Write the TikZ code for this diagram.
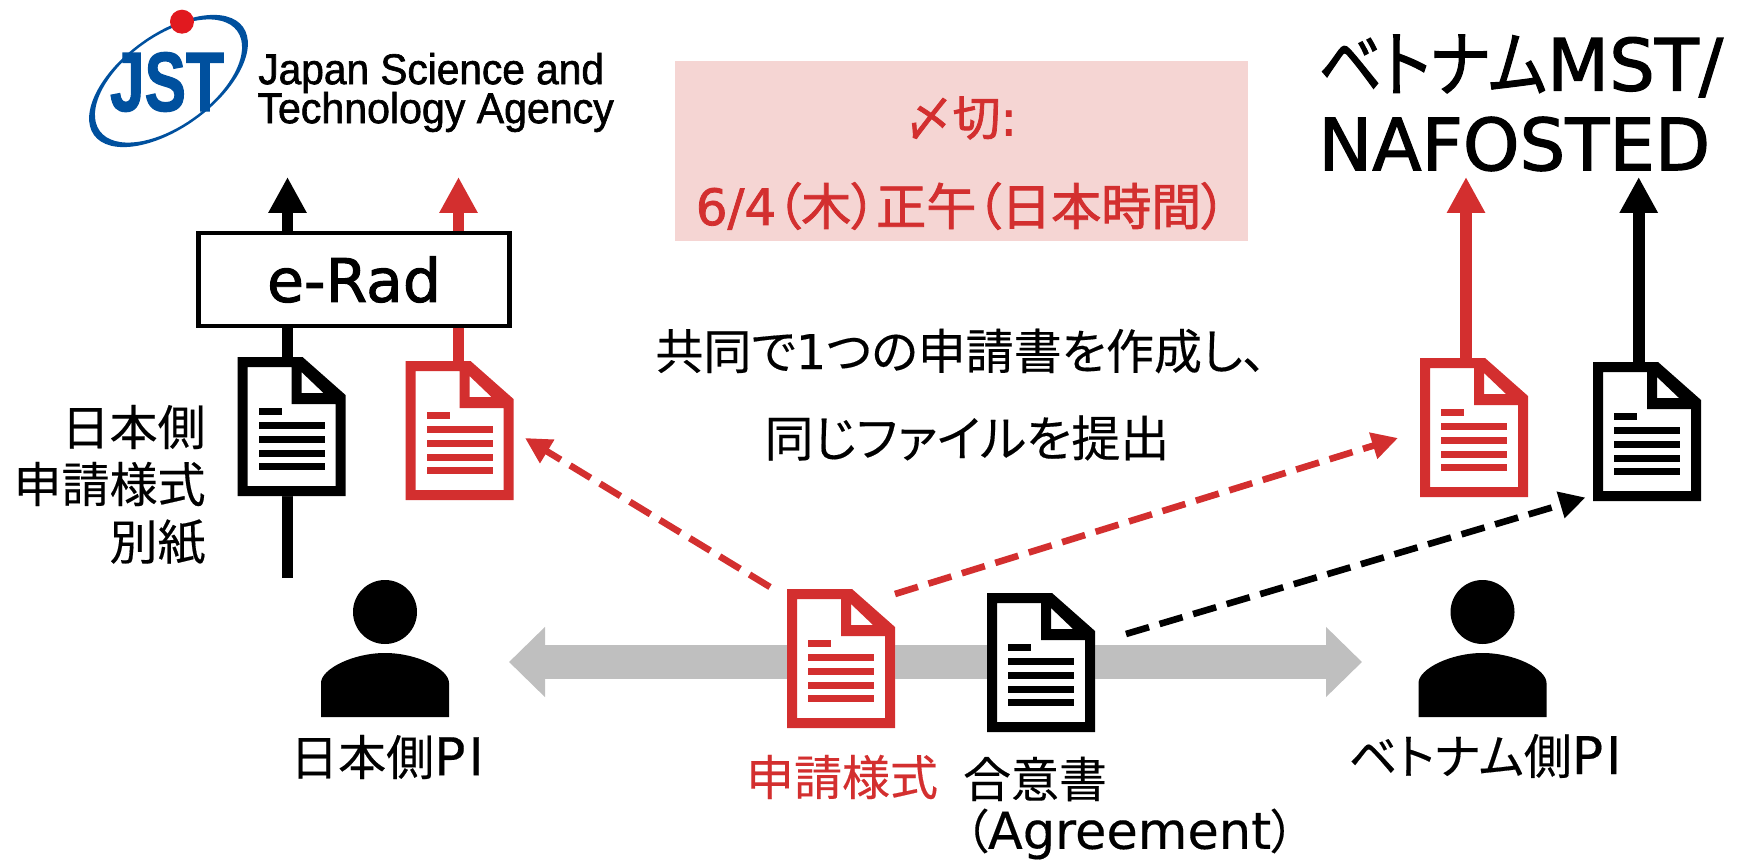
\documentclass[tikz,border=0pt]{standalone}
\usepackage{fontspec}
\setmainfont{Noto Sans CJK JP}[RawFeature={+palt;embolden=0.3}]
\newfontfamily\jb{Noto Sans CJK JP}[RawFeature={+palt;embolden=1.6}]
\newfontfamily\la{DejaVu Sans}[RawFeature={embolden=0.3}]
\newfontfamily\lb{DejaVu Sans}[RawFeature={embolden=1.6}]
\newfontfamily\logofont{Liberation Sans}[RawFeature={embolden=1.5}]
\usetikzlibrary{arrows.meta}
\definecolor{docred}{HTML}{D32F2F}
\definecolor{pinkbg}{HTML}{F5D5D3}
\definecolor{arrowgray}{HTML}{BFBFBF}
\definecolor{jstblue}{HTML}{00509E}
\definecolor{jstred}{HTML}{E1191F}
\newcommand{\fs}[1]{\fontsize{#1pt}{#1pt}\selectfont}
\newcommand{\PIlabel}{{\la\fs{26}P\kern1.5pt I}}
\tikzset{
  x=0.5pt,y=-0.5pt,
  lbl/.style={inner sep=0pt,font=\fs{24}},
  thickarrow/.style={line width=5.8pt,-{Triangle[length=18pt,width=18pt]}},
  dasharrow/.style={line width=3.3pt,dash pattern=on 12pt off 5.5pt,-{Triangle[length=13pt,width=13pt]}},
  grayarrow/.style={line width=17pt,arrowgray,{Triangle[length=18pt,width=34pt]}-{Triangle[length=18pt,width=34pt]}},
  docbox/.style={inner sep=0pt,outer sep=0pt,minimum width=54pt,minimum height=69.5pt,anchor=north west},
}
\newcommand{\docicon}[4]{%
  \node[docbox] (#1) at (#2,#3) {};
  \begin{scope}[shift={(#2,#3)},x=0.5pt,y=-0.5pt]
    \fill[white] (0,0)--(65,0)--(108,38)--(108,139)--(0,139)--cycle;
    \fill[#4,even odd rule] (0,0)--(65,0)--(108,38)--(108,139)--(0,139)--cycle
       (10,10)--(54,10)--(54,47)--(98,47)--(98,129)--(10,129)--cycle
       (64,15)--(86,36)--(64,36)--cycle;
    \fill[#4] (21,51) rectangle (44,58);
    \foreach \yy in {65,79,93,106}{\fill[#4] (21,\yy) rectangle (87,\yy+7);}
  \end{scope}}
\newcommand{\personicon}[3]{%
  \begin{scope}[shift={(#2,#3)},x=0.5pt,y=-0.5pt]
    \fill[black] (0,0) circle[radius=32];
    \fill[black] (-64,105)--(-64,71) .. controls (-64,57) and (-32,41) .. (0,41)
       .. controls (32,41) and (64,57) .. (64,71)--(64,105)--cycle;
  \end{scope}}
\begin{document}
\begin{tikzpicture}
\useasboundingbox (0,0) rectangle (1738,861);
% free ends
\coordinate (tipJB) at (287.5,177);
\coordinate (tipJR) at (458.5,177);
\coordinate (tailJB) at (287.5,578);
\coordinate (tipVR) at (1466,177);
\coordinate (tipVB) at (1638.7,177);
\coordinate (gL) at (509,662);
\coordinate (gR) at (1362,662);
\coordinate (dA0) at (770,587);
\coordinate (dA1) at (525,438);
\coordinate (dB0) at (895,594);
\coordinate (dB1) at (1398,438);
\coordinate (dC0) at (1126,634);
\coordinate (dC1) at (1585.5,497.5);
\coordinate (tailJR) at (458.5,365);
\coordinate (tailVR) at (1466,362);
\coordinate (tailVB) at (1638.7,366);
% pink box
\node[fill=pinkbg,inner sep=0pt,outer sep=0pt,minimum width=286.5pt,minimum height=90pt,anchor=north west] (deadline) at (675,61) {};
\node[lbl,docred,font=\fs{24}\jb] (dl1) at (961,118) {〆切{\lb :}};
\node[lbl,docred,font=\fs{25}\jb] (dl2) at (961,206) {{\lb 6/4}（木）正午（日本時間）};
% vertical arrows
\draw[thickarrow,black] (tailJB) -- (tipJB);
\draw[thickarrow,docred] (tailJR) -- (tipJR);
\draw[thickarrow,docred] (tailVR) -- (tipVR);
\draw[thickarrow,black] (tailVB) -- (tipVB);
% e-Rad
\node[draw=black,line width=2.4pt,fill=white,inner sep=0pt,outer sep=0pt,minimum width=155.5pt,minimum height=46.5pt,anchor=north west,font=\fs{30}] (erad) at (198.5,233) {\lb e-Rad};
% grey
\draw[grayarrow] (gL) -- (gR);
% docs
\docicon{docA}{237.5}{357}{black}
\docicon{docB}{405.5}{361}{docred}
\docicon{docC}{787}{589}{docred}
\docicon{docD}{987}{593}{black}
\docicon{docE}{1420}{358}{docred}
\docicon{docF}{1593}{362}{black}
% dashed
\draw[dasharrow,docred] (dA0) -- (dA1);
\draw[dasharrow,docred] (dB0) -- (dB1);
\draw[dasharrow,black] (dC0) -- (dC1);
% persons
\personicon{pL}{385}{612}
\personicon{pR}{1482.5}{612}
% labels
\node[lbl,font=\fs{36},anchor=west] (mst1) at (1318,66) {\scalebox{0.87}[1]{\jb ベトナム}{\lb MST/}};
\node[lbl,font=\fs{36},anchor=west] (mst2) at (1318,144) {\lb NAFOSTED};
\node[lbl] (mid1) at (961,351) {共同で{\la 1}つの申請書を作成し、};
\node[lbl,font=\fs{24.5}] (mid2) at (967,438) {同じファイルを提出};
\node[lbl,anchor=east] (s1) at (206,427) {日本側};
\node[lbl,anchor=east] (s2) at (206,484) {申請様式};
\node[lbl,anchor=east] (s3) at (206,542) {別紙};
\node[lbl] (jpi) at (387,757) {日本側\PIlabel};
\node[lbl] (vpi) at (1485,756) {ベトナム側\PIlabel};
\node[lbl,docred] (form) at (842,777) {申請様式};
\node[lbl] (agr1) at (1035,779) {合意書};
\node[lbl,anchor=west,font=\fs{23.5}] (agr2) at (964,834) {（{\la\fs{25.5}Agreement}）};
% logo
\fill[jstblue,even odd rule,rotate around={36:(168.5,81)}] (168.5,81) ellipse[x radius=92,y radius=47]
  (168.5,81) ellipse[x radius=85,y radius=44.5];
\fill[jstred] (182,21.7) circle[radius=12];
\node[inner sep=0pt,text=jstblue] (jst) at (167,82) {\scalebox{0.74}[1]{\logofont\fs{42}\bfseries JST}};
\node[inner sep=0pt,anchor=west] (jp1) at (258,73) {\scalebox{0.945}[1]{\logofont\fs{21.5}Japan Science and}};
\node[inner sep=0pt,anchor=west] (jp2) at (257,112) {\scalebox{0.956}[1]{\logofont\fs{21.5}Technology Agency}};
\end{tikzpicture}
\end{document}
